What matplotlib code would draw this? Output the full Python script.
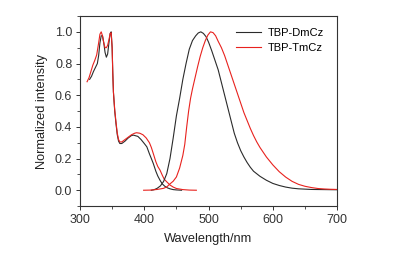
import matplotlib
matplotlib.use("Agg")
import matplotlib.pyplot as plt
from matplotlib.ticker import MultipleLocator

plt.rcParams['font.family'] = ['Liberation Sans', 'DejaVu Sans']

# TBP-DmCz absorption
dm_abs_x = [315, 318, 321, 324, 327, 329, 331, 333, 335, 337, 339, 341, 343, 345, 347, 348.5,
            350, 351, 352, 354, 356, 358, 360, 362, 365, 370, 375, 380, 383, 390, 395, 400,
            404, 408, 411, 414, 418, 421, 424.5, 428, 432, 436, 440, 445, 450, 458]
dm_abs_y = [0.70, 0.72, 0.75, 0.775, 0.80, 0.85, 0.93, 0.975, 0.975, 0.93, 0.87, 0.84, 0.86, 0.93, 0.99, 1.0,
            0.90, 0.74, 0.62, 0.50, 0.42, 0.35, 0.31, 0.295, 0.295, 0.31, 0.33, 0.345, 0.348, 0.34, 0.32, 0.295,
            0.274, 0.23, 0.20, 0.169, 0.12, 0.09, 0.063, 0.04, 0.025, 0.015, 0.009, 0.004, 0.002, 0.0]

# TBP-TmCz absorption
tm_abs_x = [311, 314, 317, 320, 323, 326, 329, 331, 333, 335, 337, 339, 341, 343, 345, 347, 348.5,
            350, 351, 352, 354, 356, 358, 360, 362, 365, 370, 375, 380, 385, 388, 393, 398, 403,
            408, 411, 414, 418, 421, 424.5, 428, 431, 435, 440, 445, 450, 460, 470, 481]
tm_abs_y = [0.685, 0.71, 0.75, 0.79, 0.82, 0.855, 0.93, 0.985, 1.0, 0.975, 0.93, 0.90, 0.90, 0.915, 0.95, 0.99, 0.995,
            0.90, 0.74, 0.62, 0.51, 0.43, 0.36, 0.32, 0.305, 0.305, 0.32, 0.335, 0.35, 0.36, 0.363, 0.36, 0.35, 0.33,
            0.30, 0.27, 0.232, 0.18, 0.15, 0.127, 0.095, 0.07, 0.053, 0.033, 0.02, 0.011, 0.004, 0.001, 0.0]

# TBP-DmCz emission
dm_em_x = [411, 415, 420, 425, 430, 435, 440, 445, 450, 455, 460, 465, 470, 475, 480, 484, 488, 492,
           496, 500, 505, 510, 515, 520, 525, 530, 535, 540, 545, 550, 555, 560, 565, 570, 580, 590,
           600, 610, 620, 630, 640, 660, 680, 700]
dm_em_y = [0.0, 0.003, 0.012, 0.027, 0.055, 0.105, 0.20, 0.33, 0.47, 0.58, 0.70, 0.80, 0.89, 0.945, 0.975, 0.993, 1.0, 0.99,
           0.97, 0.935, 0.88, 0.82, 0.76, 0.68, 0.60, 0.52, 0.44, 0.36, 0.30, 0.25, 0.21, 0.175, 0.145, 0.12, 0.088, 0.063,
           0.043, 0.03, 0.02, 0.013, 0.009, 0.005, 0.004, 0.003]

# TBP-TmCz emission
tm_em_x = [399, 410, 420, 430, 435, 440, 445, 450, 455, 460, 463, 466, 469, 472, 475, 479, 483, 487,
           491, 495, 499, 503, 507, 511, 515, 520, 525, 530, 535, 540, 545, 550, 555, 560, 565, 570,
           575, 580, 585, 590, 600, 610, 620, 630, 640, 650, 660, 670, 680, 690, 700]
tm_em_y = [0.0, 0.001, 0.005, 0.012, 0.021, 0.04, 0.057, 0.084, 0.14, 0.22, 0.29, 0.40, 0.50, 0.58, 0.64, 0.71, 0.78, 0.845,
           0.90, 0.945, 0.98, 1.0, 0.995, 0.975, 0.94, 0.90, 0.85, 0.79, 0.73, 0.67, 0.61, 0.55, 0.49, 0.44, 0.39, 0.345,
           0.305, 0.27, 0.24, 0.21, 0.16, 0.117, 0.083, 0.056, 0.037, 0.025, 0.017, 0.011, 0.008, 0.006, 0.005]

labels = ["TBP-DmCz", "TBP-TmCz"]
black = "#2b2b2b"
red = "#e8221e"

fig = plt.figure(figsize=(3.98, 2.56), dpi=100)
ax = fig.add_axes([0.201, 0.195, 0.646, 0.7425])

ax.plot(dm_abs_x, dm_abs_y, color=black, lw=0.8, label=labels[0])
ax.plot(tm_abs_x, tm_abs_y, color=red, lw=0.8, label=labels[1])
ax.plot(dm_em_x, dm_em_y, color=black, lw=0.8)
ax.plot(tm_em_x, tm_em_y, color=red, lw=0.8)

ax.set_xlim(300, 700)
ax.set_ylim(-0.1, 1.1)
ax.xaxis.set_major_locator(MultipleLocator(100))
ax.xaxis.set_minor_locator(MultipleLocator(50))
ax.yaxis.set_major_locator(MultipleLocator(0.2))
ax.yaxis.set_minor_locator(MultipleLocator(0.1))
ax.yaxis.set_major_formatter(plt.FormatStrFormatter('%.1f'))
ax.tick_params(which='major', direction='out', length=3, width=0.7, labelsize=9, colors='#333333', pad=2.5)
ax.tick_params(which='minor', direction='out', length=2, width=0.6, colors='#333333')
for s in ax.spines.values():
    s.set_linewidth(0.8)
    s.set_color('#333333')

ax.set_xlabel("Wavelength/nm", fontsize=9.2, color='#222222', labelpad=5)
ax.set_ylabel("Normalized intensity", fontsize=9.2, color='#222222', labelpad=5)

ax.legend(loc='upper right', frameon=False, fontsize=8, handlelength=2.2,
          handletextpad=0.6, borderaxespad=0.7, labelspacing=0.45,
          bbox_to_anchor=(0.995, 1.0))

fig.savefig("out.png", dpi=100)
